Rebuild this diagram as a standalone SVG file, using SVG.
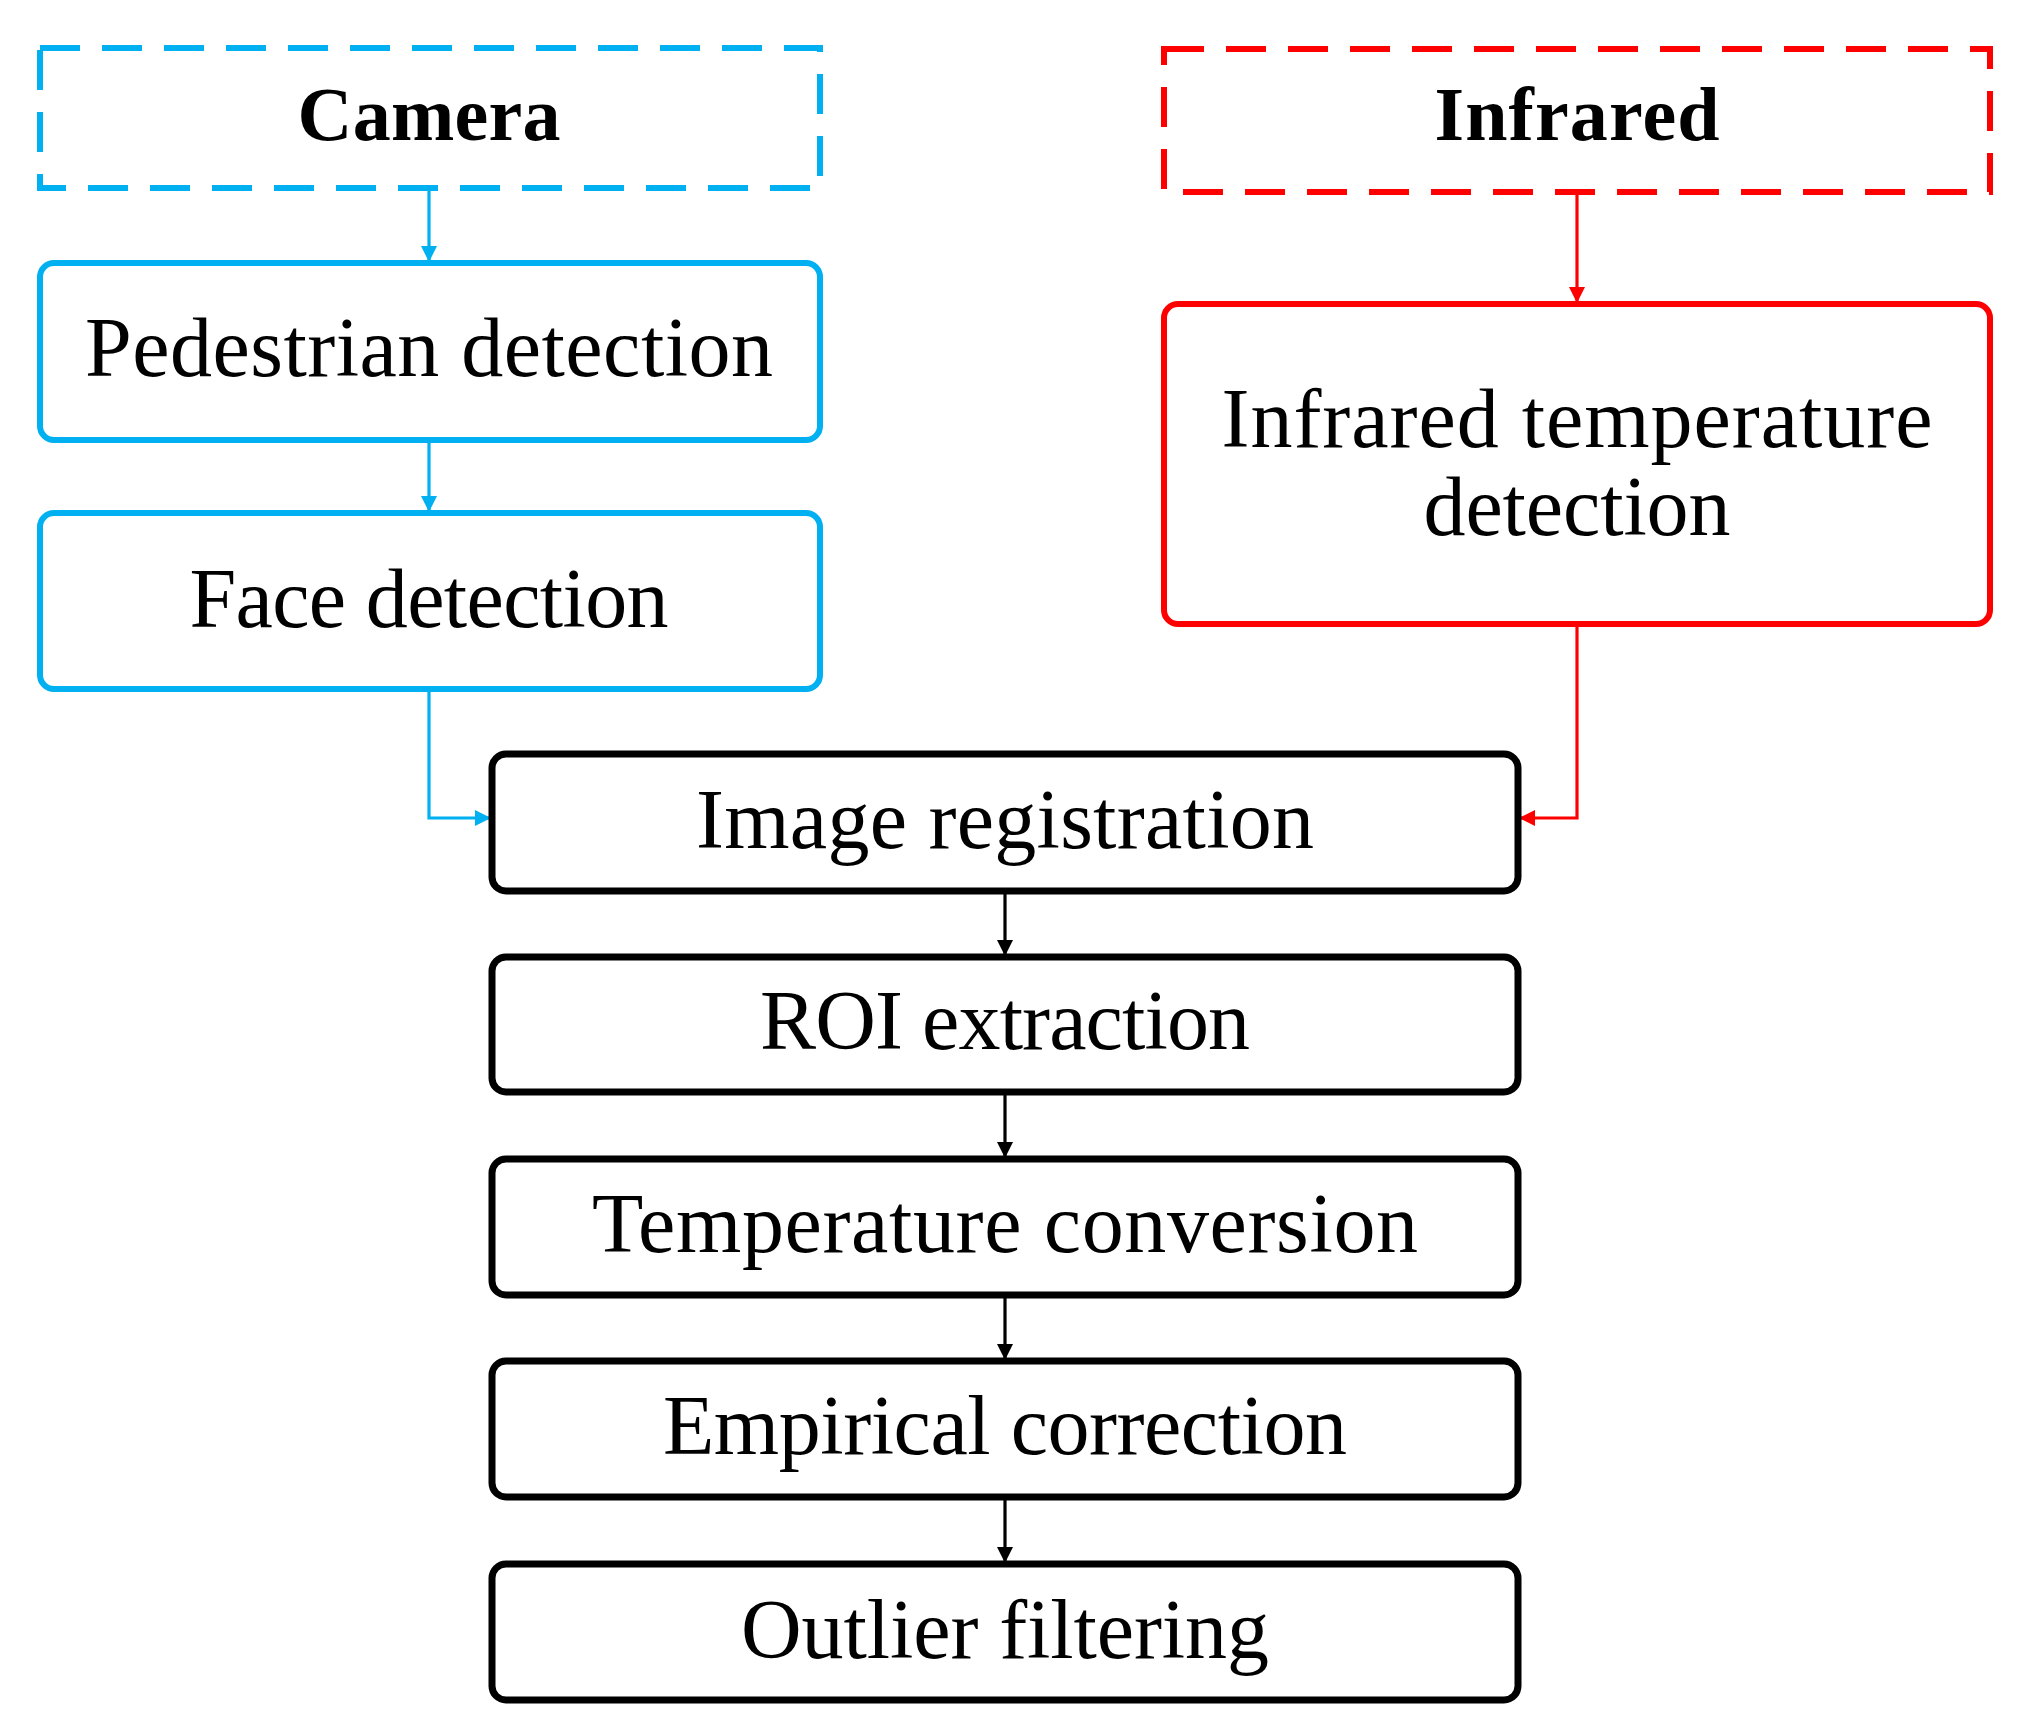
<svg xmlns="http://www.w3.org/2000/svg" width="2020" height="1715" viewBox="0 0 2020 1715">
<style>
text{font-family:"Liberation Serif","DejaVu Serif",serif;font-size:84px;text-anchor:middle;fill:#000}
.b{font-weight:bold;font-size:76px}
.cam{fill:#fff;stroke:#00b0f0;stroke-width:6}
.ir{fill:#fff;stroke:#ff0000;stroke-width:6}
.k{fill:#fff;stroke:#000;stroke-width:7}
.dash{stroke-dasharray:40 22}
.c{fill:none;stroke-width:3.2}
</style>
<defs>
<marker id="ab" viewBox="0 0 10 10" refX="10" refY="5" markerWidth="18" markerHeight="16" markerUnits="userSpaceOnUse" orient="auto"><path d="M0,0L10,5L0,10z" fill="#00b0f0"/></marker>
<marker id="ar" viewBox="0 0 10 10" refX="10" refY="5" markerWidth="18" markerHeight="16" markerUnits="userSpaceOnUse" orient="auto"><path d="M0,0L10,5L0,10z" fill="#ff0000"/></marker>
<marker id="ak" viewBox="0 0 10 10" refX="10" refY="5" markerWidth="18" markerHeight="16" markerUnits="userSpaceOnUse" orient="auto"><path d="M0,0L10,5L0,10z" fill="#000"/></marker>
</defs>
<g id="connectors">
<path class="c" stroke="#00b0f0" marker-end="url(#ab)" d="M429,188V262"/>
<path class="c" stroke="#00b0f0" marker-end="url(#ab)" d="M429,440V512"/>
<path class="c" stroke="#00b0f0" marker-end="url(#ab)" d="M429,689V818H491"/>
<path class="c" stroke="#ff0000" marker-end="url(#ar)" d="M1577,192V303"/>
<path class="c" stroke="#ff0000" marker-end="url(#ar)" d="M1577,624V818H1519"/>
<path class="c" stroke="#000" marker-end="url(#ak)" d="M1005,891V956"/>
<path class="c" stroke="#000" marker-end="url(#ak)" d="M1005,1092V1158"/>
<path class="c" stroke="#000" marker-end="url(#ak)" d="M1005,1295V1360"/>
<path class="c" stroke="#000" marker-end="url(#ak)" d="M1005,1497V1563"/>
</g>
<g id="camera"><rect class="cam dash" x="40" y="48" width="780" height="140"/><text class="b" x="429" y="140" textLength="263">Camera</text></g>
<g id="pedestrian"><rect class="cam" x="40" y="263" width="780" height="177" rx="14"/><text x="429" y="376" textLength="688">Pedestrian detection</text></g>
<g id="face"><rect class="cam" x="40" y="513" width="780" height="176" rx="14"/><text x="429" y="627" textLength="479">Face detection</text></g>
<g id="infrared"><rect class="ir dash" x="1164" y="49" width="826" height="143"/><text class="b" x="1577" y="140" textLength="285">Infrared</text></g>
<g id="irtemp"><rect class="ir" x="1164" y="304" width="826" height="320" rx="14"/><text x="1577" y="447" textLength="711">Infrared temperature</text><text x="1577" y="535" textLength="307">detection</text></g>
<g id="imgreg"><rect class="k" x="492" y="754" width="1026" height="137" rx="14"/><text x="1005" y="848" textLength="618">Image registration</text></g>
<g id="roi"><rect class="k" x="492" y="957" width="1026" height="135" rx="14"/><text x="1005" y="1049" textLength="490">ROI extraction</text></g>
<g id="tempconv"><rect class="k" x="492" y="1159" width="1026" height="136" rx="14"/><text x="1005" y="1252" textLength="826">Temperature conversion</text></g>
<g id="empirical"><rect class="k" x="492" y="1361" width="1026" height="136" rx="14"/><text x="1005" y="1454" textLength="684">Empirical correction</text></g>
<g id="outlier"><rect class="k" x="492" y="1564" width="1026" height="136" rx="14"/><text x="1005" y="1658" textLength="528">Outlier filtering</text></g>
</svg>
